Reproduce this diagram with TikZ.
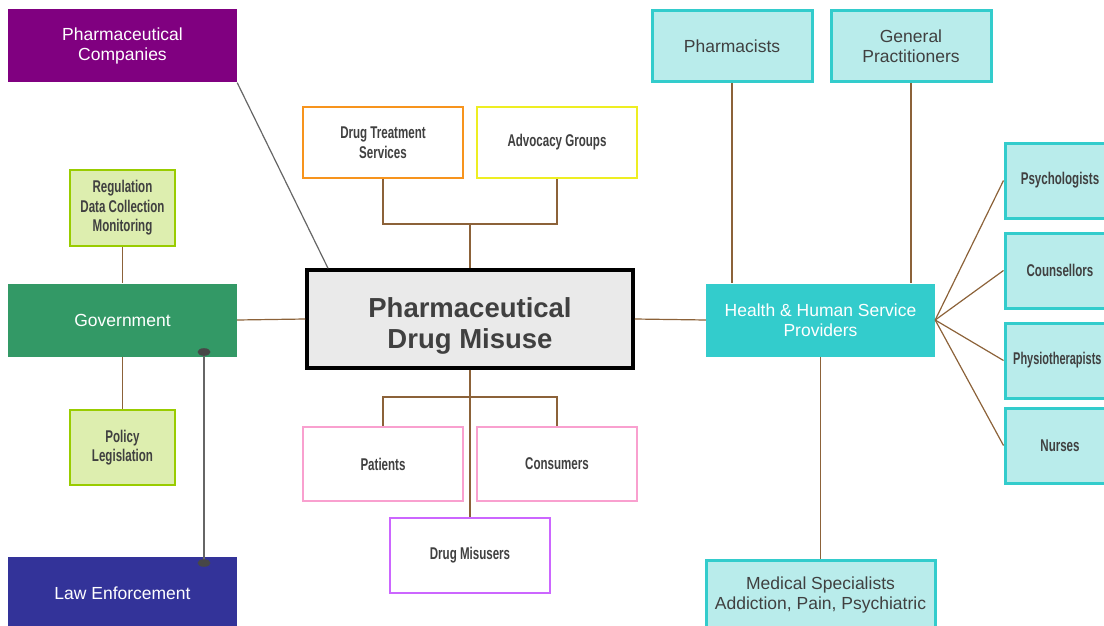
\documentclass[tikz,border=0pt]{standalone}
\usepackage{fontspec}
\setmainfont{Liberation Sans}
\newfontfamily\narrowfam[FakeStretch=0.68]{Liberation Sans}
\newfontfamily\narrowerfam[FakeStretch=0.645]{Liberation Sans}
\definecolor{cpurple}{HTML}{800080}
\definecolor{cgreen}{HTML}{339966}
\definecolor{cnavy}{HTML}{333399}
\definecolor{ccyan}{HTML}{33CCCC}
\definecolor{clcyan}{HTML}{B9ECEB}
\definecolor{clgreen}{HTML}{DDEEAF}
\definecolor{cygreen}{HTML}{99CC00}
\definecolor{cbrown}{HTML}{8C6239}
\definecolor{cgray}{HTML}{666666}
\definecolor{ctext}{HTML}{404040}
\definecolor{corange}{HTML}{F7941D}
\definecolor{cyellow}{HTML}{EEEE22}
\definecolor{cpink}{HTML}{F9A0CF}
\definecolor{cviolet}{HTML}{CC66FF}
\definecolor{ccenter}{HTML}{EAEAEA}
\tikzset{
  box/.style={rectangle, inner sep=0pt, align=center},
  solidbox/.style={box, text=white, font=\fontsize{17.5}{20}\selectfont},
  lightbox/.style={box, fill=clcyan, draw=ccyan, line width=3pt, text=ctext, font=\fontsize{17.5}{20}\selectfont},
  narrowbox/.style={box, fill=white, line width=2.5pt, text=ctext, font=\narrowfam\bfseries\fontsize{17}{19.5}\selectfont},
  greenbox/.style={narrowbox, fill=clgreen, draw=cygreen},
  cyannarrow/.style={narrowbox, fill=clcyan, draw=ccyan, line width=3pt},
  link/.style={draw=cbrown, line width=1.2pt},
  graylink/.style={draw=cgray, line width=1.2pt},
}
\begin{document}
\begin{tikzpicture}[x=1pt,y=-1pt]
\useasboundingbox (0,0) rectangle (1104,626);
\begin{scope}
\clip (0,0) rectangle (1104,626);
% left column
\node[solidbox, fill=cpurple, minimum width=229pt, minimum height=73pt] (comp) at (122.5,46) {Pharmaceutical\\Companies};
\node[greenbox, minimum width=105pt, minimum height=76pt] (reg) at (122.5,208) {Regulation\\Data Collection\\Monitoring};
\node[solidbox, fill=cgreen, minimum width=229pt, minimum height=73pt] (gov) at (122.5,320) {Government};
\node[greenbox, minimum width=105pt, minimum height=75pt] (pol) at (122.5,447.5) {Policy\\Legislation};
\node[solidbox, fill=cnavy, minimum width=229pt, minimum height=73pt] (law) at (122.5,593.5) {Law Enforcement};
% center
\node[box, fill=ccenter, draw=black, line width=3.5pt, minimum width=326pt, minimum height=98pt] (core) at (470,319) {};
\node[box, text=ctext, font=\bfseries\fontsize{27.5}{31}\selectfont] (coretext) at (470,325.5) {Pharmaceutical\\Drug Misuse};
\node[narrowbox, draw=corange, minimum width=160pt, minimum height=71pt] (dts) at (383,142.5) {Drug Treatment\\Services};
\node[narrowbox, draw=cyellow, minimum width=160pt, minimum height=71pt] (adv) at (557,142.5) {Advocacy Groups};
\node[narrowbox, draw=cpink, minimum width=160pt, minimum height=74pt] (pat) at (383,464) {Patients};
\node[narrowbox, draw=cpink, minimum width=160pt, minimum height=74pt] (con) at (557,464) {Consumers};
\node[narrowbox, draw=cviolet, minimum width=160pt, minimum height=75pt] (mis) at (470,555.5) {Drug Misusers};
% right
\node[solidbox, fill=ccyan, minimum width=229pt, minimum height=73pt] (hhs) at (820.5,320) {Health \& Human Service\\Providers};
\node[lightbox, minimum width=160pt, minimum height=71pt] (phar) at (732,46) {Pharmacists};
\node[lightbox, minimum width=160pt, minimum height=71pt] (gp) at (911,46) {General\\Practitioners};
\node[lightbox, minimum width=229pt, minimum height=80pt] (med) at (820.5,600) {};
\node[text=ctext, font=\fontsize{17.5}{20}\selectfont, align=center, inner sep=0pt] (medt) at (820.5,594.5) {Medical Specialists\\Addiction, Pain, Psychiatric};
\node[cyannarrow, minimum width=110pt, minimum height=75pt] (psy) at (1060,180.5) {Psychologists};
\node[cyannarrow, minimum width=110pt, minimum height=75pt] (cou) at (1060,270.5) {Counsellors};
\node[cyannarrow, minimum width=110pt, minimum height=75pt] (phy) at (1060,360.5) {};
\node[box, text=ctext, font=\narrowerfam\bfseries\fontsize{17}{19.5}\selectfont, anchor=west] (phyt) at (1013,360.5) {Physiotherapists};
\node[cyannarrow, minimum width=110pt, minimum height=75pt] (nur) at (1060,445.5) {Nurses};
\end{scope}
% connectors
\draw[graylink] (comp.south east) -- (core.north west -| 328,0);
\draw[link] (reg) -- (gov);
\draw[link] (gov) -- (pol);
\draw[link] (gov.east) -- (core.west);
\coordinate (gdot) at (204,352);
\coordinate (ldot) at (204,563);
\draw[graylink] (gdot) -- (ldot);
\fill[cgray!70!black] (gdot) ellipse (6.5pt and 3.8pt);
\fill[cgray!70!black] (ldot) ellipse (6.5pt and 3.8pt);
\coordinate (tj) at (470,224);
\draw[link] (dts.south) |- (tj) -| (adv.south);
\draw[link] (tj) -- (core.north);
\coordinate (bj) at (470,397);
\draw[link] (core.south) -- (mis.north);
\draw[link] (pat.north) |- (bj) -| (con.north);
\draw[link] (core.east) -- (hhs.west);
\draw[link] (phar.south) -- (phar.south |- hhs.north);
\draw[link] (gp.south) -- (gp.south |- hhs.north);
\draw[link] (hhs.south) -- (med.north);
\draw[link] (hhs.east) -- (psy.west);
\draw[link] (hhs.east) -- (cou.west);
\draw[link] (hhs.east) -- (phy.west);
\draw[link] (hhs.east) -- (nur.west);
\end{tikzpicture}
\end{document}
